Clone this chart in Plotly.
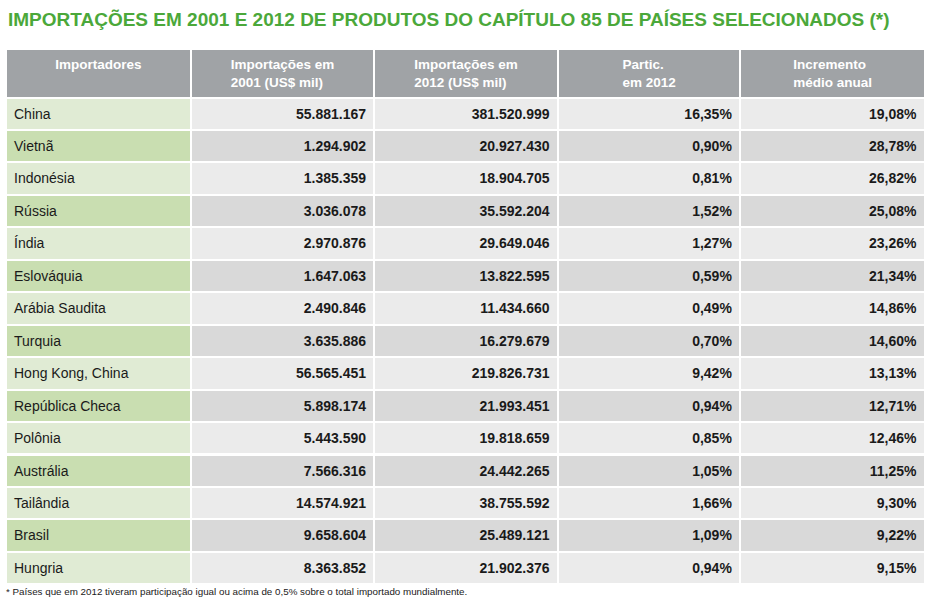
import plotly.graph_objects as go

W, H = 941, 602

title = "IMPORTAÇÕES EM 2001 E 2012 DE PRODUTOS DO CAPÍTULO 85 DE PAÍSES SELECIONADOS (*)"
footnote = "* Países que em 2012 tiveram participação igual ou acima de 0,5% sobre o total importado mundialmente."

headers = ["Importadores", "Importações em<br>2001 (US$ mil)", "Importações em<br>2012 (US$ mil)",
           "Partic.<br>em 2012", "Incremento<br>médio anual"]

countries = ["China", "Vietnã", "Indonésia", "Rússia", "Índia", "Eslováquia", "Arábia Saudita",
             "Turquia", "Hong Kong, China", "República Checa", "Polônia", "Austrália",
             "Tailândia", "Brasil", "Hungria"]
imp2001 = ["55.881.167", "1.294.902", "1.385.359", "3.036.078", "2.970.876", "1.647.063",
           "2.490.846", "3.635.886", "56.565.451", "5.898.174", "5.443.590", "7.566.316",
           "14.574.921", "9.658.604", "8.363.852"]
imp2012 = ["381.520.999", "20.927.430", "18.904.705", "35.592.204", "29.649.046", "13.822.595",
           "11.434.660", "16.279.679", "219.826.731", "21.993.451", "19.818.659", "24.442.265",
           "38.755.592", "25.489.121", "21.902.376"]
partic = ["16,35%", "0,90%", "0,81%", "1,52%", "1,27%", "0,59%", "0,49%", "0,70%", "9,42%",
          "0,94%", "0,85%", "1,05%", "1,66%", "1,09%", "0,94%"]
incremento = ["19,08%", "28,78%", "26,82%", "25,08%", "23,26%", "21,34%", "14,86%", "14,60%",
              "13,13%", "12,71%", "12,46%", "11,25%", "9,30%", "9,22%", "9,15%"]

n = len(countries)
green = ["#e0ebd4" if i % 2 == 0 else "#c9deb1" for i in range(n)]
gray = ["#ebebeb" if i % 2 == 0 else "#d9d9d9" for i in range(n)]

FONT = "Liberation Sans, Arial, sans-serif"


def bold(col):
    return [f"<b>{v}</b>" for v in col]


def plain(col):
    return [f"<span>{v}</span>" for v in col]


x0, x1 = 6, 925
top = 49
header_h = 46
row_h = 32.45
bottom = top + header_h + n * row_h

fig = go.Figure(go.Table(
    columnwidth=[184, 183, 183, 182, 184],
    header=dict(
        values=[f"<b>{h}</b>" for h in headers],
        fill_color="#a0a3a6",
        line=dict(color="white", width=2),
        align="center",
        font=dict(family=FONT, size=13.5, color="white"),
        height=header_h,
    ),
    cells=dict(
        values=[plain(countries), bold(imp2001), bold(imp2012), bold(partic), bold(incremento)],
        fill_color=[green, gray, gray, gray, gray],
        line=dict(color="white", width=2),
        align=["left", "right", "right", "right", "right"],
        font=dict(family=FONT, size=14, color="#1a1a1a"),
        height=row_h,
    ),
    domain=dict(x=[x0 / W, x1 / W], y=[1 - (bottom + 2) / H, 1 - top / H]),
))

fig.add_annotation(
    text=f"<b>{title}</b>", x=6 / W, y=1 - 20 / H, xref="paper", yref="paper",
    xanchor="left", yanchor="middle", showarrow=False,
    font=dict(family=FONT, size=19, color="#4ba83a"),
)
fig.add_annotation(
    text=footnote, x=4 / W, y=1 - 591 / H, xref="paper", yref="paper",
    xanchor="left", yanchor="middle", showarrow=False,
    font=dict(family=FONT, size=9.8, color="#1a1a1a"),
)

fig.update_layout(
    width=W, height=H,
    margin=dict(l=0, r=0, t=0, b=0),
    paper_bgcolor="white", plot_bgcolor="white",
)

fig.write_html(
    "out.html",
    config={"displayModeBar": False},
    post_script="document.body.style.margin='0';document.body.style.padding='0';",
)
